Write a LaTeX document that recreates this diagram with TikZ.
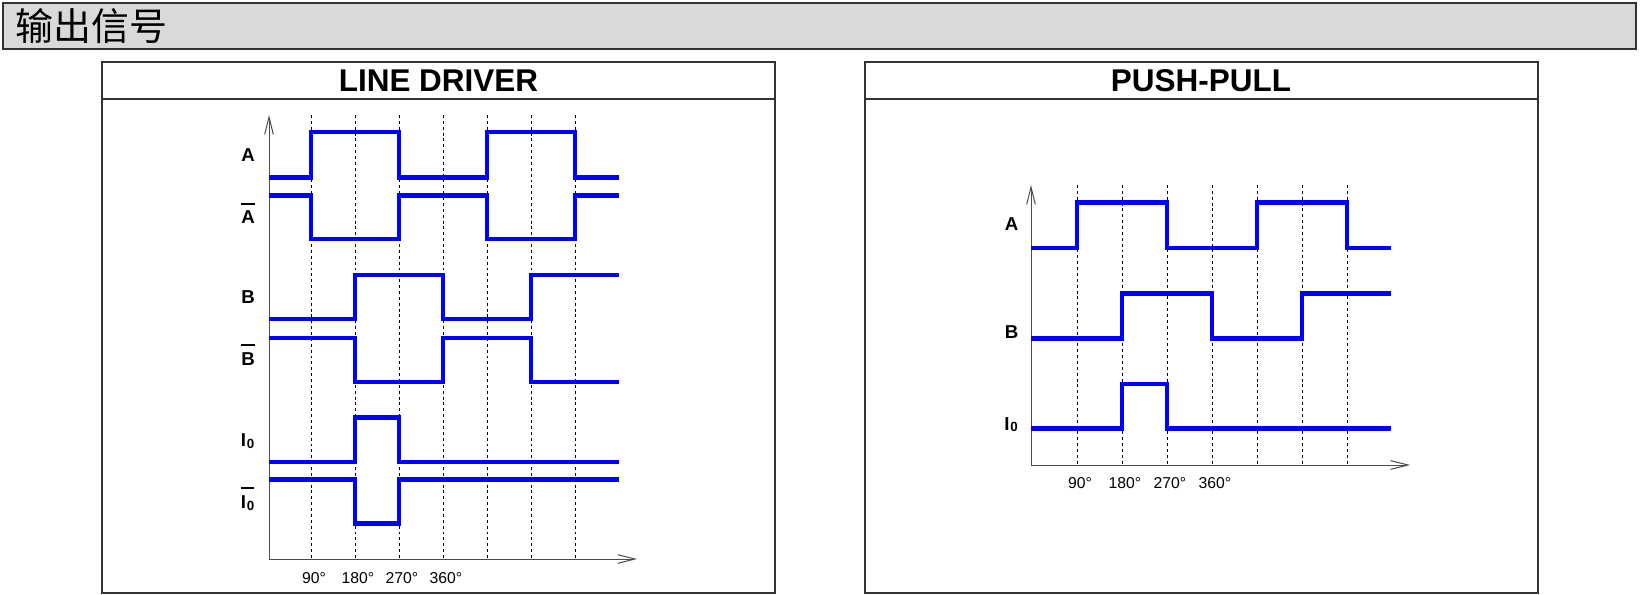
\documentclass[tikz,border=0pt]{standalone}
\usepackage{fontspec}
\setmainfont{Liberation Sans}
\newfontfamily\cjk{Noto Sans CJK SC}
\usetikzlibrary{arrows.meta}
\definecolor{hdrgray}{HTML}{D9D9D9}
\definecolor{framegray}{HTML}{333333}
\definecolor{sigblue}{HTML}{0000FF}
% bar over a label, and the index zero
\newcommand{\olbl}[1]{\vbox{\hrule height 1.5pt\kern 4.5pt\hbox{#1}}}
\newcommand{\Izero}{I\kern0.6pt\raisebox{-1.5pt}{\fontsize{10}{10}\selectfont 0}}
\tikzset{
  sig/.style={draw=sigblue,line width=3.3pt},
  gridline/.style={draw=black,line width=0.6pt,dash pattern=on 2.2pt off 2.2pt},
  axis/.style={draw=black!70,line width=0.75pt,-{Straight Barb[length=13pt,width=6.5pt]}},
  lbl/.style={font=\fontsize{14}{16}\selectfont\bfseries,anchor=base,inner sep=0pt},
  deg/.style={font=\fontsize{11.8}{13}\selectfont,inner sep=0pt},
  panel/.style={draw=framegray,line width=1.5pt,fill=white},
  ptitle/.style={font=\fontsize{23.6}{28}\selectfont\bfseries,inner sep=0pt}
}
\begin{document}
\begin{tikzpicture}[x=0.75pt,y=-0.75pt]
\useasboundingbox (0,0) rectangle (1646,595);
% header
\draw[draw=framegray,line width=1.5pt,fill=hdrgray] (3,3) rectangle (1636,49);
\node[anchor=west,inner sep=0pt,font=\cjk\fontsize{28.5}{30}\selectfont] (hdr) at (15,26) {输出信号};

% LINE DRIVER
\draw[panel] (102,62) rectangle (775,593);
\draw[draw=framegray,line width=1.5pt] (102,99.3) -- (775,99.3);
\node[ptitle] (ldtitle) at (438.5,80.5) {LINE DRIVER};
\coordinate (lo) at (269,559);
\coordinate (ltop) at (269,115);
\coordinate (lend) at (637,559);
\foreach \x in {311,355,...,575}
  \draw[gridline] (\x,115) -- (\x,559);
\draw[axis] (lo) -- (ltop);
\draw[axis] (lo) -- (lend);
\draw[sig] (269,177.7) -| (311,132.3) -| (399,177.7) -| (487,132.3) -| (575,177.7) -- (619,177.7);
\draw[sig] (269,195.7) -| (311,239.3) -| (399,195.7) -| (487,239.3) -| (575,195.7) -- (619,195.7);
\draw[sig] (269,319.3) -| (355,275) -| (443,319.3) -| (531,275) -- (619,275);
\draw[sig] (269,338.3) -| (355,381.7) -| (443,338.3) -| (531,381.7) -- (619,381.7);
\draw[sig] (269,461.7) -| (355,417.3) -| (399,461.7) -- (619,461.7);
\draw[sig] (269,479.3) -| (355,523.3) -| (399,479.3) -- (619,479.3);
\node[lbl] (la) at (248,161.7) {A};
\node[lbl] (lan) at (248,224) {\olbl{A}};
\node[lbl] (lb) at (248,303.4) {B};
\node[lbl] (lbn) at (248,365) {\olbl{B}};
\node[lbl] (li) at (247.5,446) {\Izero};
\node[lbl] (lin) at (247.5,508.3) {\olbl{\Izero}};
\node[deg] (ld1) at (314,578) {90°};
\node[deg] (ld2) at (358,578) {180°};
\node[deg] (ld3) at (402,578) {270°};
\node[deg] (ld4) at (446,578) {360°};

% PUSH-PULL
\draw[panel] (864.5,62) rectangle (1537.5,593);
\draw[draw=framegray,line width=1.5pt] (864.5,99.3) -- (1537.5,99.3);
\node[ptitle] (pptitle) at (1201,80.5) {PUSH-PULL};
\coordinate (ro) at (1031,465);
\coordinate (rtop) at (1031,185);
\coordinate (rend) at (1410,465);
\foreach \x in {1077,1122,...,1347}
  \draw[gridline] (\x,185) -- (\x,465);
\draw[axis] (ro) -- (rtop);
\draw[axis] (ro) -- (rend);
\draw[sig] (1031,248.3) -| (1077,202.7) -| (1167,248.3) -| (1257,202.7) -| (1347,248.3) -- (1391,248.3);
\draw[sig] (1031,338.7) -| (1122,293.7) -| (1212,338.7) -| (1302,293.7) -- (1391,293.7);
\draw[sig] (1031,428.3) -| (1122,383.7) -| (1167,428.3) -- (1391,428.3);
\node[lbl] (ra) at (1011.7,230.7) {A};
\node[lbl] (rb) at (1011.7,338.7) {B};
\node[lbl] (ri) at (1011,430) {\Izero};
\node[deg] (rd1) at (1080,483.3) {90°};
\node[deg] (rd2) at (1125,483.3) {180°};
\node[deg] (rd3) at (1170,483.3) {270°};
\node[deg] (rd4) at (1215,483.3) {360°};
\end{tikzpicture}
\end{document}
